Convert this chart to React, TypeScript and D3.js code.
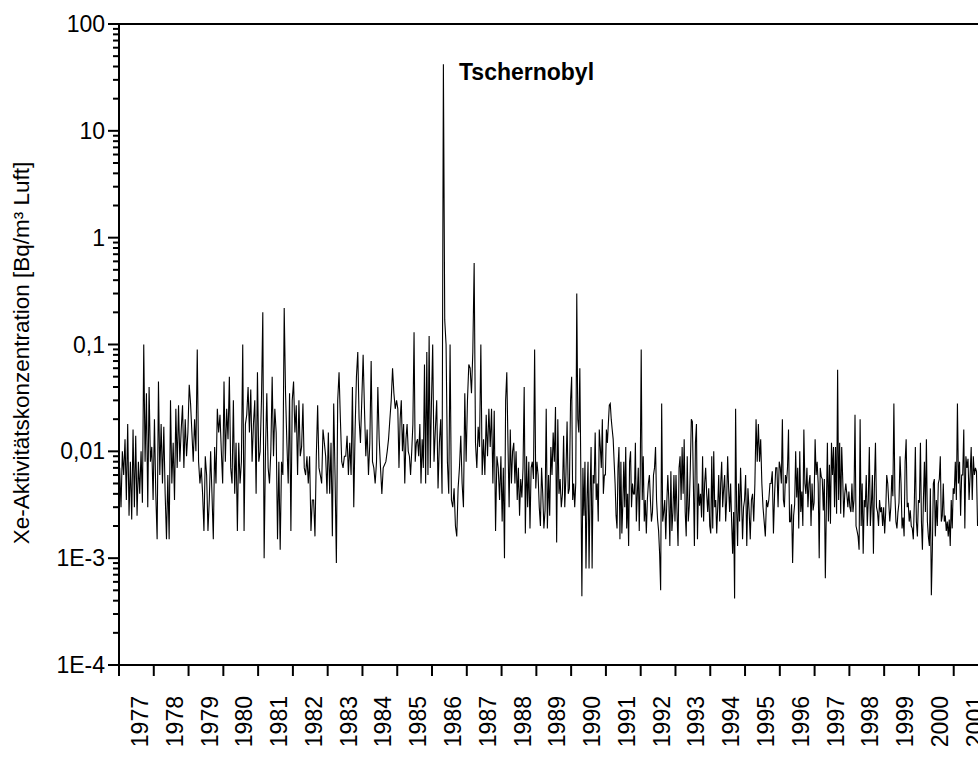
import React from 'react';
import * as d3 from 'd3';

// Xe concentration, one array per year (Bq/m³)
const y1977 = [0.007, 0.003, 0.01, 0.006, 0.013, 0.0035, 0.018, 0.0025, 0.008, 0.0023, 0.016, 0.003, 0.014, 0.0025, 0.008, 0.004, 0.01, 0.0033, 0.1, 0.008, 0.035, 0.003, 0.04, 0.008, 0.011, 0.0035];
const y1978 = [0.02, 0.004, 0.0015, 0.045, 0.006, 0.018, 0.005, 0.017, 0.004, 0.0015, 0.006, 0.0015, 0.03, 0.005, 0.012, 0.0035, 0.025, 0.007, 0.027, 0.008, 0.016, 0.027, 0.007, 0.02, 0.009, 0.015];
const y1979 = [0.042, 0.028, 0.015, 0.008, 0.02, 0.01, 0.09, 0.008, 0.005, 0.007, 0.004, 0.0018, 0.009, 0.006, 0.0018, 0.0035, 0.01, 0.004, 0.0015, 0.011, 0.005, 0.025, 0.015, 0.022, 0.01, 0.005];
const y1980 = [0.045, 0.008, 0.025, 0.013, 0.05, 0.007, 0.005, 0.03, 0.004, 0.012, 0.0018, 0.012, 0.005, 0.008, 0.1, 0.0018, 0.018, 0.022, 0.04, 0.015, 0.038, 0.008, 0.018, 0.03, 0.004, 0.055];
const y1981 = [0.008, 0.01, 0.03, 0.2, 0.001, 0.01, 0.035, 0.007, 0.005, 0.01, 0.05, 0.009, 0.025, 0.015, 0.0015, 0.008, 0.0012, 0.008, 0.006, 0.22, 0.035, 0.012, 0.005, 0.035, 0.0018, 0.03];
const y1982 = [0.045, 0.015, 0.027, 0.006, 0.03, 0.009, 0.011, 0.028, 0.007, 0.006, 0.009, 0.005, 0.009, 0.0018, 0.0035, 0.0035, 0.0016, 0.009, 0.027, 0.007, 0.006, 0.005, 0.016, 0.012, 0.009, 0.004];
const y1983 = [0.015, 0.004, 0.012, 0.0016, 0.028, 0.006, 0.0009, 0.03, 0.055, 0.02, 0.008, 0.007, 0.009, 0.009, 0.014, 0.006, 0.012, 0.006, 0.04, 0.003, 0.016, 0.05, 0.085, 0.02, 0.012, 0.03];
const y1984 = [0.08, 0.025, 0.009, 0.016, 0.006, 0.012, 0.07, 0.008, 0.007, 0.005, 0.008, 0.04, 0.013, 0.007, 0.004, 0.007, 0.0075, 0.008, 0.01, 0.013, 0.02, 0.03, 0.06, 0.035, 0.025, 0.03];
const y1985 = [0.025, 0.007, 0.02, 0.03, 0.01, 0.018, 0.005, 0.013, 0.018, 0.01, 0.009, 0.006, 0.01, 0.018, 0.13, 0.008, 0.012, 0.013, 0.009, 0.018, 0.005, 0.013, 0.007, 0.065, 0.005, 0.085, 0.006, 0.12, 0.007, 0.028];
const y1986 = [0.1, 0.008, 0.016, 0.03, 0.0045, 0.012, 0.02, 0.004, 42, 0.17, 0.1, 0.008, 0.004, 0.1, 0.0035, 0.003, 0.0045, 0.002, 0.0016, 0.0045, 0.007, 0.014, 0.005, 0.003, 0.035, 0.008];
const y1987 = [0.03, 0.065, 0.06, 0.035, 0.085, 0.58, 0.012, 0.007, 0.017, 0.011, 0.1, 0.006, 0.013, 0.006, 0.022, 0.009, 0.025, 0.011, 0.025, 0.005, 0.024, 0.0018, 0.009, 0.007, 0.0035, 0.009];
const y1988 = [0.0022, 0.007, 0.001, 0.03, 0.055, 0.012, 0.003, 0.016, 0.005, 0.01, 0.012, 0.005, 0.01, 0.0035, 0.007, 0.0025, 0.0055, 0.0037, 0.007, 0.04, 0.0017, 0.009, 0.003, 0.008, 0.0019, 0.007, 0.008, 0.0055, 0.09, 0.0045];
const y1989 = [0.008, 0.006, 0.003, 0.002, 0.007, 0.004, 0.0019, 0.0028, 0.025, 0.0019, 0.006, 0.0025, 0.011, 0.006, 0.015, 0.008, 0.026, 0.0014, 0.02, 0.004, 0.0055, 0.003, 0.004, 0.014, 0.003, 0.006, 0.019, 0.004, 0.0045, 0.03];
const y1990 = [0.05, 0.0035, 0.005, 0.003, 0.005, 0.3, 0.02, 0.015, 0.06, 0.006, 0.00044, 0.007, 0.0025, 0.008, 0.0008, 0.0035, 0.008, 0.0008, 0.004, 0.011, 0.0008, 0.006, 0.005, 0.015, 0.0035, 0.005, 0.0022, 0.016, 0.011, 0.007, 0.02, 0.004, 0.006, 0.006];
const y1991 = [0.016, 0.012, 0.018, 0.027, 0.028, 0.02, 0.016, 0.013, 0.008, 0.005, 0.0025, 0.0019, 0.007, 0.011, 0.0015, 0.008, 0.0017, 0.0032, 0.008, 0.003, 0.011, 0.0019, 0.004, 0.0013, 0.008, 0.01, 0.003, 0.005, 0.004, 0.004, 0.012, 0.0022, 0.004, 0.007, 0.0018, 0.006];
const y1992 = [0.09, 0.0035, 0.009, 0.0022, 0.0035, 0.0017, 0.0035, 0.005, 0.006, 0.0035, 0.0022, 0.0027, 0.006, 0.007, 0.011, 0.0035, 0.0023, 0.0018, 0.0011, 0.0005, 0.028, 0.0022, 0.0027, 0.0035, 0.0015, 0.0033, 0.006, 0.0035, 0.0013, 0.0065, 0.0018, 0.0027, 0.006, 0.0022];
const y1993 = [0.006, 0.0027, 0.0013, 0.007, 0.009, 0.0035, 0.011, 0.004, 0.013, 0.0027, 0.0016, 0.009, 0.0022, 0.0031, 0.007, 0.02, 0.019, 0.005, 0.0013, 0.012, 0.018, 0.0015, 0.005, 0.0031, 0.004, 0.0024, 0.009, 0.0022, 0.005, 0.007, 0.004, 0.0027, 0.0045, 0.002];
const y1994 = [0.0017, 0.009, 0.0019, 0.01, 0.003, 0.0035, 0.0017, 0.003, 0.006, 0.0022, 0.005, 0.008, 0.003, 0.0045, 0.006, 0.0022, 0.0035, 0.009, 0.0045, 0.0027, 0.005, 0.0022, 0.0011, 0.0027, 0.00042, 0.025, 0.003, 0.0013, 0.005, 0.0022, 0.007, 0.0035, 0.0015, 0.003, 0.0035];
const y1995 = [0.006, 0.0013, 0.0045, 0.0028, 0.0015, 0.0035, 0.004, 0.0022, 0.005, 0.02, 0.008, 0.018, 0.008, 0.013, 0.005, 0.003, 0.0022, 0.0016, 0.0035, 0.003, 0.0035, 0.005, 0.005, 0.0065, 0.0017, 0.004, 0.007, 0.007, 0.003, 0.008];
const y1996 = [0.007, 0.005, 0.02, 0.0035, 0.003, 0.006, 0.005, 0.007, 0.016, 0.0022, 0.0022, 0.0032, 0.0009, 0.0025, 0.0032, 0.01, 0.0037, 0.007, 0.0019, 0.01, 0.0027, 0.0042, 0.002, 0.016, 0.005, 0.004, 0.007, 0.003, 0.005, 0.006, 0.002, 0.005, 0.0028, 0.0033];
const y1997 = [0.013, 0.006, 0.008, 0.005, 0.001, 0.007, 0.0058, 0.0055, 0.0028, 0.0055, 0.00065, 0.003, 0.012, 0.0022, 0.0075, 0.0021, 0.012, 0.006, 0.011, 0.003, 0.011, 0.0026, 0.058, 0.0035, 0.012, 0.0026, 0.011, 0.0055, 0.0024, 0.004, 0.005, 0.004, 0.003, 0.0042];
const y1998 = [0.003, 0.0027, 0.005, 0.0027, 0.0035, 0.022, 0.002, 0.0018, 0.0016, 0.0012, 0.02, 0.002, 0.005, 0.0011, 0.0035, 0.003, 0.006, 0.002, 0.0035, 0.011, 0.002, 0.0032, 0.006, 0.0011, 0.005, 0.012, 0.003, 0.0027, 0.002, 0.0035, 0.0027, 0.003, 0.002, 0.003];
const y1999 = [0.0017, 0.0027, 0.006, 0.005, 0.0033, 0.0022, 0.003, 0.006, 0.0038, 0.028, 0.004, 0.0022, 0.0019, 0.0027, 0.0033, 0.009, 0.005, 0.0019, 0.0024, 0.0016, 0.008, 0.013, 0.003, 0.0033, 0.0022, 0.0028, 0.002, 0.0019, 0.0015, 0.0033, 0.011, 0.0022, 0.0016, 0.0035];
const y2000 = [0.0033, 0.012, 0.0022, 0.0012, 0.0035, 0.008, 0.0027, 0.013, 0.0022, 0.0016, 0.0013, 0.0045, 0.00045, 0.0012, 0.005, 0.0055, 0.0016, 0.0035, 0.002, 0.005, 0.0055, 0.009, 0.0022, 0.0025, 0.005, 0.0022, 0.0025, 0.0018, 0.0022, 0.0016, 0.0023, 0.0013, 0.0035, 0.0019, 0.0045];
const y2001 = [0.004, 0.008, 0.0035, 0.028, 0.005, 0.008, 0.0025, 0.006, 0.006, 0.016, 0.0019, 0.009, 0.007, 0.0085, 0.0035, 0.006, 0.011, 0.0035, 0.009, 0.006, 0.007, 0.0065, 0.002];

const years = d3.range(1977, 2002);
const yearSeries = [y1977, y1978, y1979, y1980, y1981, y1982, y1983, y1984, y1985, y1986, y1987, y1988, y1989, y1990, y1991, y1992, y1993, y1994, y1995, y1996, y1997, y1998, y1999, y2000, y2001];
const dataEnd = 2001.7; // last measurement

const yTickLabels = ['1E-4', '1E-3', '0,01', '0,1', '1', '10', '100'];

const width = 978;
const height = 760;

export default function App() {
  const x = d3.scaleLinear().domain([1977, 2002]).range([119, 988.5]);
  const y = d3.scaleLog().domain([1e-4, 100]).range([665, 24]);

  const points: [number, number][] = [];
  yearSeries.forEach((vals, k) => {
    const yr = years[k];
    const span = k === yearSeries.length - 1 ? dataEnd - yr : 1;
    vals.forEach((v, i) => points.push([yr + ((i + 0.5) * span) / vals.length, v]));
  });

  const line = d3
    .line<[number, number]>()
    .x((d) => x(d[0]))
    .y((d) => y(d[1]));

  const majors = d3.range(-4, 3).map((e) => Math.pow(10, e));
  const minors: number[] = [];
  majors.slice(0, -1).forEach((m) => {
    for (let k = 2; k < 10; k++) minors.push(m * k);
  });

  const x0 = x(1977);
  const font = 'Arial, "Liberation Sans", sans-serif';

  return (
    <svg
      width={width}
      height={height}
      style={{ position: 'absolute', left: 0, top: 0, background: 'white' }}
      fontFamily={font}
    >
      {/* data */}
      <path d={line(points) || ''} fill="none" stroke="#000" strokeWidth={1.1} />

      {/* top frame */}
      <line x1={x0} x2={width} y1={y(100)} y2={y(100)} stroke="#000" strokeWidth={2} />

      {/* y axis */}
      <line x1={x0} x2={x0} y1={y(100) - 1} y2={y(1e-4) + 1} stroke="#000" strokeWidth={2} />
      {majors.map((m, i) => (
        <g key={'ym' + i}>
          <line x1={x0 - 11} x2={x0} y1={y(m)} y2={y(m)} stroke="#000" strokeWidth={2} />
          <text x={x0 - 14} y={y(m) + 8} textAnchor="end" fontSize={23}>
            {yTickLabels[i]}
          </text>
        </g>
      ))}
      {minors.map((m, i) => (
        <line key={'yn' + i} x1={x0 - 6} x2={x0} y1={y(m)} y2={y(m)} stroke="#000" strokeWidth={2} />
      ))}
      <text
        transform={`translate(29,353) rotate(-90)`}
        textAnchor="middle"
        fontSize={22.5}
      >
        Xe-Aktivitätskonzentration [Bq/m³ Luft]
      </text>

      {/* x axis */}
      <line x1={x0 - 1} x2={width} y1={y(1e-4)} y2={y(1e-4)} stroke="#000" strokeWidth={2} />
      {d3.range(1977, 2003).map((yr) => (
        <line key={'xt' + yr} x1={x(yr)} x2={x(yr)} y1={y(1e-4)} y2={y(1e-4) + 11} stroke="#000" strokeWidth={2} />
      ))}
      {years.map((yr) => (
        <text
          key={'xl' + yr}
          transform={`translate(${x(yr) + 29},696) rotate(-90)`}
          textAnchor="end"
          fontSize={23}
        >
          {yr}
        </text>
      ))}

      <text x={459} y={80} fontSize={23} fontWeight="bold">
        Tschernobyl
      </text>
    </svg>
  );
}
